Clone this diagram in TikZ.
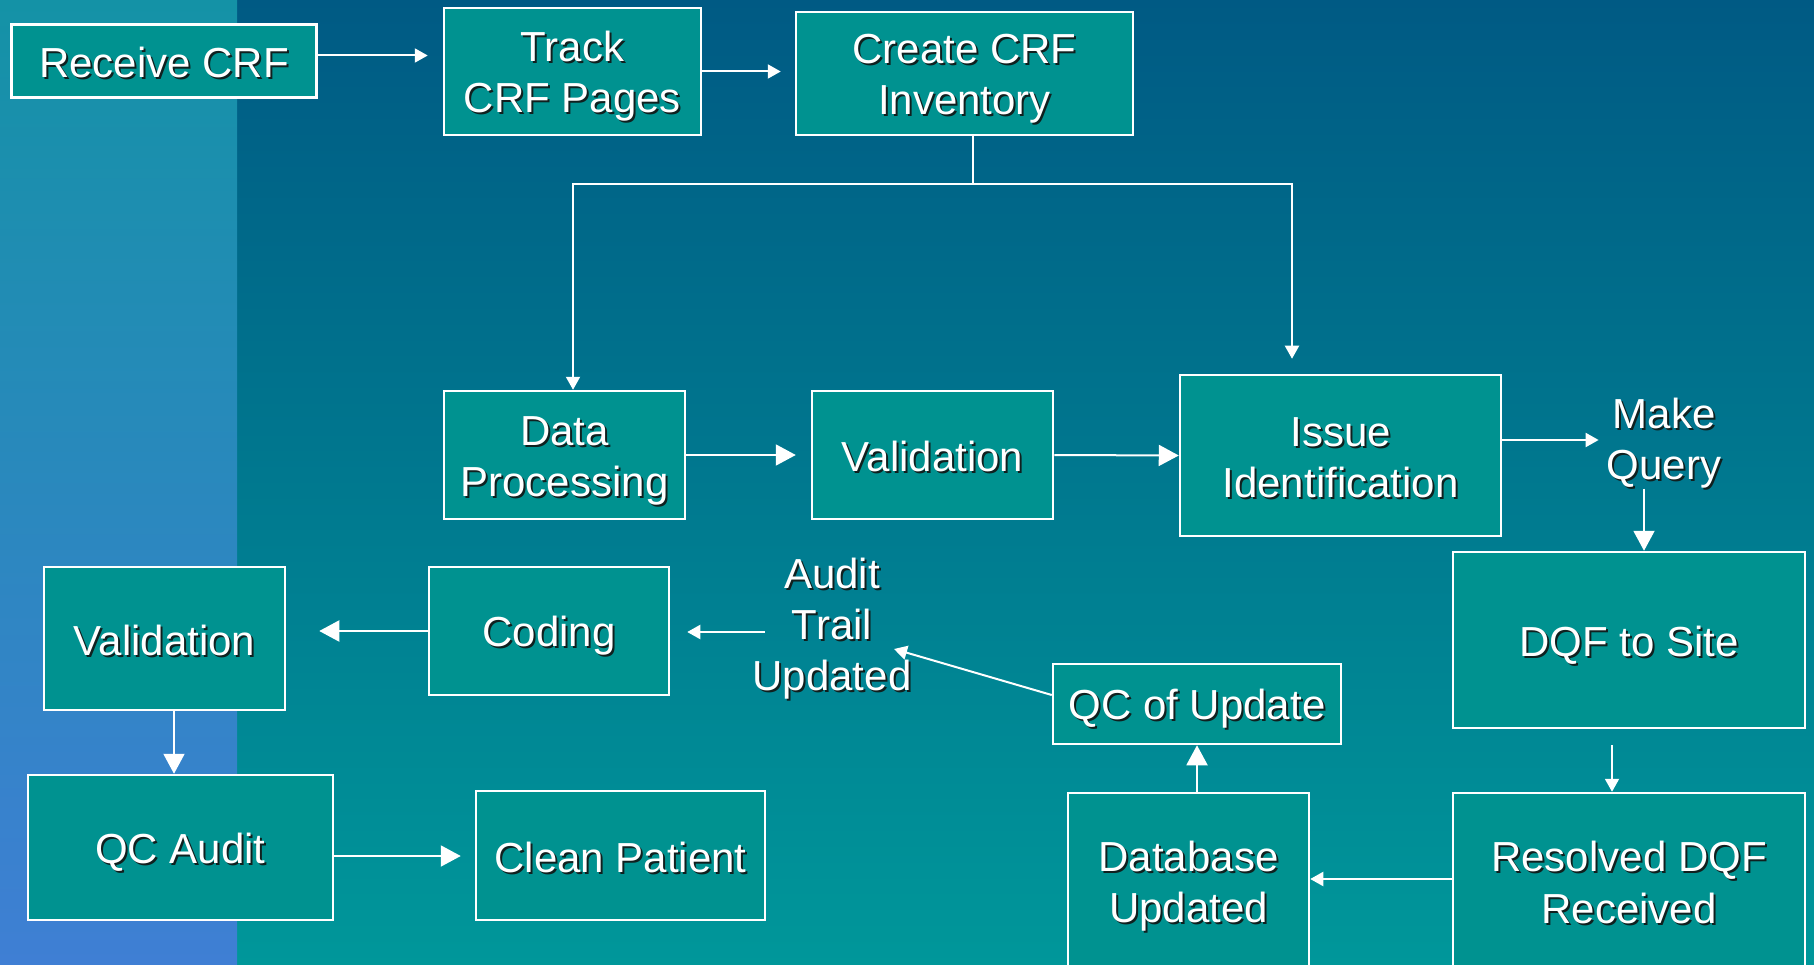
\documentclass[tikz,border=0pt]{standalone}
\usepackage{fontspec}
\setmainfont{Liberation Sans}
\usetikzlibrary{arrows.meta}
\definecolor{bgtop}{HTML}{005A84}
\definecolor{bgbot}{HTML}{00979A}
\definecolor{striptop}{HTML}{1492A6}
\definecolor{stripbot}{HTML}{3F7FD4}
\definecolor{boxfill}{HTML}{009290}
\definecolor{shadowc}{HTML}{10201F}
\newcommand\sh[1]{\rule[-9pt]{0pt}{51pt}\makebox[0pt][l]{\hspace{2pt}\raisebox{-2pt}{\textcolor{shadowc}{#1}}}#1}
\begin{document}
\begin{tikzpicture}[x=1pt,y=-1pt,
  box/.style={draw=white, line width=2.5pt, fill=boxfill, inner sep=0pt, align=center,
    text=white, font=\fontsize{42}{51}\selectfont},
  lbl/.style={inner sep=0pt, align=center, text=white, font=\fontsize{42}{51}\selectfont},
  big/.style={draw=white, line width=2pt, -{Triangle[length=20pt,width=21pt]}},
  sml/.style={draw=white, line width=2pt, -{Triangle[length=13pt,width=14pt]}},
  ln/.style={draw=white, line width=2pt}]
\useasboundingbox (0,0) rectangle (1814,965);
\clip (0,0) rectangle (1814,965);
\shade[top color=bgtop, bottom color=bgbot] (0,0) rectangle (1814,965);
\shade[top color=striptop, bottom color=stripbot] (0,0) rectangle (237,965);

\node[box, minimum width=305pt, minimum height=73pt] (rcv) at (164,61) {\sh{Receive CRF}};
\node[box, minimum width=257pt, minimum height=127pt] (track) at (572.5,71.5) {\sh{Track}\\\sh{CRF Pages}};
\node[box, minimum width=337pt, minimum height=123pt] (create) at (964.5,73.5) {\sh{Create CRF}\\\sh{Inventory}};
\node[box, minimum width=241pt, minimum height=128pt] (dp) at (564.5,455) {\sh{Data}\\\sh{Processing}};
\node[box, minimum width=241pt, minimum height=128pt] (val1) at (932.5,455) {\sh{Validation}};
\node[box, minimum width=321pt, minimum height=161pt] (issue) at (1340.5,455.5) {\sh{Issue}\\\sh{Identification}};
\node[lbl] (make) at (1664,438.5) {\sh{Make}\\\sh{Query}};
\node[box, minimum width=352pt, minimum height=176pt] (dqf) at (1629,640) {\sh{DQF to Site}};
\node[box, minimum width=352pt, minimum height=176pt] (res) at (1629,881) {\sh{Resolved DQF}\\\sh{Received}};
\node[box, minimum width=241pt, minimum height=176pt] (db) at (1188.5,881) {\sh{Database}\\\sh{Updated}};
\node[box, minimum width=288pt, minimum height=80pt] (qcu) at (1197,704) {\sh{QC of Update}};
\node[lbl] (audit) at (832,624) {\sh{Audit}\\\sh{Trail}\\\sh{Updated}};
\node[box, minimum width=240pt, minimum height=128pt] (coding) at (549,631) {\sh{Coding}};
\node[box, minimum width=241pt, minimum height=143pt] (val2) at (164.5,638.5) {\sh{Validation}};
\node[box, minimum width=305pt, minimum height=145pt] (qca) at (180.5,847.5) {\sh{QC Audit}};
\node[box, minimum width=289pt, minimum height=129pt] (clean) at (620.5,855.5) {\sh{Clean Patient}};

% connectors
\coordinate (a1) at ([yshift=5.5pt]rcv.east);
\draw[sml, shorten >=15pt] (a1) -- (a1 -| track.west);
\coordinate (a2) at (track.east);
\draw[sml, shorten >=14pt] (a2) -- (a2 -| create.west);
\coordinate (cs) at ([xshift=8.5pt]create.south);
\coordinate (j) at ([yshift=-48pt]cs);
\draw[ln] (cs) -- (j);
\draw[sml] (j) -| ([xshift=8.5pt]dp.north);
\draw[sml, shorten >=15pt] (j) -| ([xshift=-48.5pt]issue.north);
\draw[big, shorten >=15pt] (dp.east) -- (val1.west);
\draw[big] (val1.east) -- (issue.west);
\coordinate (iq) at ([yshift=15.5pt]issue.east);
\draw[sml, shorten >=8pt] (iq) -- (iq -| make.west);
\coordinate (mq) at ([xshift=-20pt,yshift=2pt]make.south);
\draw[big] (mq) -- (mq |- dqf.north);
\coordinate (dr) at ([xshift=-17pt]dqf.south);
\draw[sml, shorten <=16pt] (dr) -- (dr |- res.north);
\coordinate (rd) at ([yshift=2pt]res.west);
\draw[sml] (rd) -- (rd -| db.east);
\draw[big] (qcu.south |- db.north) -- (qcu.south);
\coordinate (at) at (894,649);
\draw[sml] ([yshift=9pt]qcu.west) -- (at);
\coordinate (ac) at (765,632);
\draw[sml, shorten >=17pt] (ac) -- (ac -| coding.east);
\draw[big, shorten >=33pt] (coding.west) -- (coding.west -| val2.east);
\coordinate (vq) at ([xshift=9.5pt]val2.south);
\draw[big] (vq) -- (vq |- qca.north);
\coordinate (qc) at ([yshift=-8.5pt]qca.east);
\draw[big, shorten >=14pt] (qc) -- (qc -| clean.west);
\end{tikzpicture}
\end{document}
